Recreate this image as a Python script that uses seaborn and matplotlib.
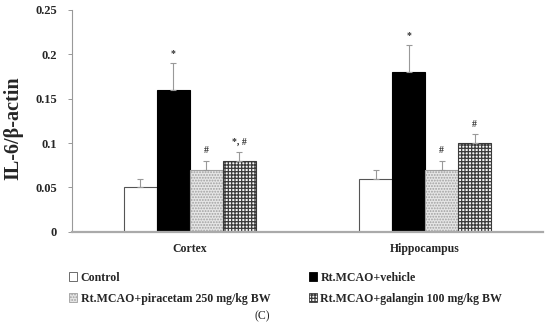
import numpy as np
import pandas as pd
import matplotlib
matplotlib.use("Agg")
import matplotlib.pyplot as plt
import seaborn as sns
from matplotlib.patches import Patch

# --- data ---
regions = ["Cortex", "Hippocampus"]
groups = ["Control", "Rt.MCAO+vehicle",
          "Rt.MCAO+piracetam 250 mg/kg BW", "Rt.MCAO+galangin 100 mg/kg BW"]
cortex_vals = [0.05, 0.16, 0.07, 0.08]
cortex_err = [0.01, 0.03, 0.01, 0.01]
hippo_vals = [0.06, 0.18, 0.07, 0.10]
hippo_err = [0.01, 0.03, 0.01, 0.01]
cortex_marks = ["", "*", "#", "*, #"]
hippo_marks = ["", "*", "#", "#"]

df = pd.DataFrame({
    "region": np.repeat(regions, len(groups)),
    "group": groups * len(regions),
    "value": cortex_vals + hippo_vals,
    "err": cortex_err + hippo_err,
    "mark": cortex_marks + hippo_marks,
})

sns.set_style("white")
plt.rcParams["font.family"] = ["Liberation Serif", "DejaVu Serif"]
plt.rcParams["font.weight"] = "bold"
plt.rcParams["hatch.linewidth"] = 0.9

# bar looks per group: face, edge, hatch
looks = {
    groups[0]: ("white", "#555555", ""),
    groups[1]: ("black", "black", ""),
    groups[2]: ("#e6e6e6", "#a0a0a0", "......"),
    groups[3]: ("#f4f4f4", "#3a3a3a", "+++++"),
}

fig = plt.figure(figsize=(5.5, 3.28), dpi=100)
ax = fig.add_axes([0.131, 0.293, 0.856, 0.677])

sns.barplot(data=df, x="region", y="value", hue="group", hue_order=groups,
            order=regions, width=0.56, errorbar=None, legend=False, ax=ax,
            palette=["white"] * 4, saturation=1)

for i, g in enumerate(groups):
    face, edge, hatch = looks[g]
    for bar in ax.containers[i]:
        bar.set_facecolor(face)
        bar.set_edgecolor(edge)
        bar.set_hatch(hatch)
        bar.set_linewidth(0.8)
    sub = df[df["group"] == g].set_index("region").loc[regions]
    xs = [b.get_x() + b.get_width() / 2 for b in ax.containers[i]]
    ax.errorbar(xs, sub["value"], yerr=[np.zeros(len(xs)), sub["err"]],
                fmt="none", ecolor="#999999", elinewidth=0.8, capsize=2,
                capthick=0.8)
    for x, v, e, m in zip(xs, sub["value"], sub["err"], sub["mark"]):
        if m:
            ax.annotate(m, (x, v + e), xytext=(0, 4), textcoords="offset points",
                        ha="center", va="bottom", fontsize=7, color="#333333")

ax.set_xlim(-0.5, 1.5)
ax.set_ylim(0, 0.25)
ax.set_yticks([0, 0.05, 0.1, 0.15, 0.2, 0.25])
ax.set_yticklabels(["0", "0.05", "0.1", "0.15", "0.2", "0.25"])
ax.set_xlabel("")
ax.set_ylabel("IL-6/\u03b2-actin", fontsize=14.5, fontweight="bold")
ax.yaxis.set_label_coords(-0.104, 0.465)
ax.tick_params(axis="y", labelsize=9, length=3, width=0.6, color="#888888",
               direction="out", left=True, pad=8)
ax.tick_params(axis="x", labelsize=8.5, length=0, pad=8)
for lab in ax.get_xticklabels() + ax.get_yticklabels():
    lab.set_fontweight("bold")

sns.despine(ax=ax)
ax.spines["left"].set_color("#999999")
ax.spines["left"].set_linewidth(0.8)
ax.spines["bottom"].set_color("#aaaaaa")
ax.spines["bottom"].set_linewidth(1.6)

# legend: row 1 Control / vehicle, row 2 piracetam / galangin
handles = [Patch(facecolor=looks[g][0], edgecolor=looks[g][1],
                 hatch=looks[g][2], linewidth=0.6, label=g) for g in groups]
order = [0, 2, 1, 3]
fig.legend([handles[k] for k in order], [groups[k] for k in order],
           loc="upper left", bbox_to_anchor=(0.125, 0.172), ncol=2,
           frameon=False, fontsize=8.6, handlelength=0.7, handleheight=0.7,
           handletextpad=0.3, columnspacing=3.2, labelspacing=0.75,
           borderaxespad=0, borderpad=0)
fig.text(0.476, 0.036, "(C)", ha="center", va="center", fontsize=8.5,
         fontweight="normal")

fig.savefig("out.png", dpi=100)
